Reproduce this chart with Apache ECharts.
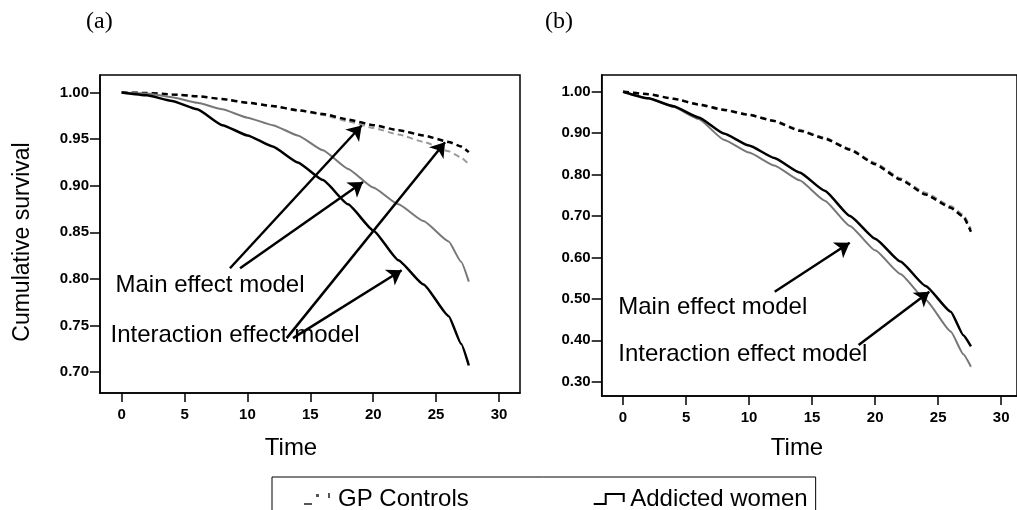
<!DOCTYPE html>
<html>
<head>
<meta charset="utf-8">
<script src="https://cdn.jsdelivr.net/npm/echarts@6/dist/echarts.min.js"></script>
<style>
  html, body { margin: 0; padding: 0; background: #fff; }
  #main { width: 1017px; height: 510px; }
</style>
</head>
<body>
<div id="main"></div>
<script>
// follow-up time (shared by all curves)
const times = [0, 2, 4, 6, 8, 10, 12, 14, 16, 18, 20, 22, 24, 26, 27, 27.6];

// (a) curves
const aGpMain = [1, 0.9995, 0.998, 0.996, 0.993, 0.989, 0.9855, 0.981, 0.976, 0.969, 0.962, 0.955, 0.947, 0.937, 0.930, 0.923];
const aGpInter = [1, 0.9995, 0.998, 0.996, 0.993, 0.989, 0.9855, 0.981, 0.977, 0.971, 0.965, 0.9595, 0.954, 0.947, 0.942, 0.936];
const aAwMain = [1, 0.999, 0.995, 0.989, 0.982, 0.973, 0.965, 0.954, 0.938, 0.918, 0.898, 0.880, 0.862, 0.840, 0.818, 0.797];
const aAwInter = [1, 0.997, 0.991, 0.982, 0.965, 0.954, 0.942, 0.925, 0.906, 0.880, 0.852, 0.820, 0.794, 0.760, 0.730, 0.707];

// (b) curves
const bGpMain = [1, 0.994, 0.983, 0.970, 0.957, 0.945, 0.930, 0.908, 0.889, 0.862, 0.828, 0.791, 0.756, 0.724, 0.703, 0.668];
const bGpInter = [1, 0.994, 0.983, 0.969, 0.956, 0.944, 0.929, 0.906, 0.887, 0.860, 0.825, 0.788, 0.752, 0.720, 0.698, 0.662];
const bAwMain = [1, 0.984, 0.963, 0.934, 0.884, 0.853, 0.822, 0.786, 0.737, 0.676, 0.617, 0.560, 0.498, 0.421, 0.366, 0.336];
const bAwInter = [1, 0.984, 0.965, 0.938, 0.899, 0.870, 0.840, 0.805, 0.761, 0.700, 0.645, 0.590, 0.531, 0.469, 0.412, 0.385];

// tick labels
const xTicks = [0, 5, 10, 15, 20, 25, 30];
const yTicksA = [0.70, 0.75, 0.80, 0.85, 0.90, 0.95, 1.00];
const yTicksB = [0.30, 0.40, 0.50, 0.60, 0.70, 0.80, 0.90, 1.00];

// annotation text (time, survival) and arrows [from, to]
const notesA = [['Main effect model', -0.53, 0.7932], ['Interaction effect model', -0.93, 0.7396]];
const arrowsA = [
  [[8.61, 0.8114], [19.08, 0.9646]],
  [[9.41, 0.8114], [19.19, 0.9039]],
  [[13.12, 0.7364], [25.71, 0.9467]],
  [[13.62, 0.7364], [22.26, 0.8093]]
];
const notesB = [['Main effect model', -0.42, 0.4803], ['Interaction effect model', -0.42, 0.3669]];
const arrowsB = [
  [[12.03, 0.5173], [17.98, 0.6355]],
  [[18.69, 0.3886], [24.30, 0.5173]]
];

const FONT = '"Liberation Sans", Arial, sans-serif';
const pairs = (ys) => ys.map((v, i) => [times[i], v]);

function xAx (idx, min, max) {
  return {
    type: 'value', gridIndex: idx, min: min, max: max,
    axisLine: { show: true, onZero: false, lineStyle: { color: '#000', width: 1.5 } },
    axisTick: { show: true, length: 9, customValues: xTicks, lineStyle: { color: '#000', width: 1.5 } },
    axisLabel: { customValues: xTicks, color: '#000', fontFamily: FONT, fontWeight: 'bold', fontSize: 15, margin: 14 },
    splitLine: { show: false }
  };
}
function yAx (idx, min, max, ticks, digits) {
  return {
    type: 'value', gridIndex: idx, min: min, max: max,
    axisLine: { show: true, onZero: false, lineStyle: { color: '#000', width: 1.5 } },
    axisTick: { show: true, length: 10, customValues: ticks, lineStyle: { color: '#000', width: 1.5 } },
    axisLabel: {
      customValues: ticks, color: '#000', fontFamily: FONT, fontWeight: 'bold', fontSize: 15, margin: 11,
      formatter: (v) => v.toFixed(digits)
    },
    splitLine: { show: false }
  };
}

function curve (name, idx, ys, color, width, dashed) {
  return {
    name: name, type: 'line', xAxisIndex: idx, yAxisIndex: idx,
    data: pairs(ys), showSymbol: false, smooth: 0.15, smoothMonotone: 'x',
    lineStyle: { color: color, width: width, type: dashed ? [6, 4] : 'solid' },
    itemStyle: { color: color },
    emphasis: { disabled: true }, silent: true
  };
}

function notes (txt, arr) {
  return {
    markPoint: {
      symbol: 'circle', symbolSize: 1, silent: true,
      itemStyle: { color: 'rgba(0,0,0,0)' },
      label: { show: true, position: 'right', distance: 0, formatter: '{b}', color: '#000', fontFamily: FONT, fontSize: 24 },
      data: txt.map((t) => ({ name: t[0], coord: [t[1], t[2]] }))
    },
    markLine: {
      symbol: ['none', 'arrow'], symbolSize: 14, silent: true,
      lineStyle: { color: '#000', width: 2.5, type: 'solid' },
      label: { show: false },
      emphasis: { disabled: true },
      data: arr.map((a) => [{ coord: a[0] }, { coord: a[1] }])
    }
  };
}

const blackA = Object.assign(curve('Addicted women', 0, aAwInter, '#000', 2.5, false), notes(notesA, arrowsA));
const blackB = Object.assign(curve('Addicted women', 1, bAwInter, '#000', 2.5, false), notes(notesB, arrowsB));

const SERIF = '"Liberation Serif", "Times New Roman", serif';

const option = {
  animation: false,
  backgroundColor: '#fff',
  title: [
    { text: '(a)', left: 86, top: 10, padding: 0, textStyle: { fontFamily: SERIF, fontSize: 24, fontWeight: 'normal', color: '#000' } },
    { text: '(b)', left: 545, top: 10, padding: 0, textStyle: { fontFamily: SERIF, fontSize: 24, fontWeight: 'normal', color: '#000' } }
  ],
  grid: [
    { left: 100, top: 75, width: 420, height: 318, show: true, borderColor: '#000', borderWidth: 1.5, containLabel: false },
    { left: 601.7, top: 75, width: 420.3, height: 321, show: true, borderColor: '#000', borderWidth: 1.5, containLabel: false }
  ],
  xAxis: [xAx(0, -1.725, 31.67), xAx(1, -1.693, 31.254)],
  yAxis: [yAx(0, 0.6775, 1.0188, yTicksA, 2), yAx(1, 0.2655, 1.0403, yTicksB, 2)],
  legend: {
    left: 272, top: 477, orient: 'horizontal',
    borderColor: '#000', borderWidth: 1, padding: [10, 8, 30, 32],
    itemGap: 125, itemWidth: 32, itemHeight: 12,
    textStyle: { fontFamily: FONT, fontSize: 24, color: '#000' },
    selectedMode: false,
    data: [
      { name: 'GP Controls', icon: 'path://M0,10H8V12H0Z M12,1H15V4H12Z M24,0H26V5H24Z', itemStyle: { color: '#555', borderWidth: 0 }, lineStyle: { width: 0 } },
      { name: 'Addicted women', icon: 'path://M0,10H11V0H31V9H29V2H13V12H0Z', itemStyle: { color: '#000', borderWidth: 0 }, lineStyle: { width: 0 } }
    ]
  },
  graphic: [
    { type: 'text', x: 23, y: 242, rotation: Math.PI / 2, style: { text: 'Cumulative survival', font: '23px "Liberation Sans", Arial, sans-serif', fill: '#000', textAlign: 'center', textVerticalAlign: 'middle' } },
    { type: 'text', x: 291, y: 448, style: { text: 'Time', font: '24px "Liberation Sans", Arial, sans-serif', fill: '#000', textAlign: 'center', textVerticalAlign: 'middle' } },
    { type: 'text', x: 797, y: 448, style: { text: 'Time', font: '24px "Liberation Sans", Arial, sans-serif', fill: '#000', textAlign: 'center', textVerticalAlign: 'middle' } }
  ],
  series: [
    curve('GP Controls', 0, aGpMain, '#9a9a9a', 2, true),
    curve('GP Controls', 0, aGpInter, '#000', 2.5, true),
    curve('Addicted women', 0, aAwMain, '#777', 2, false),
    blackA,
    curve('GP Controls', 1, bGpMain, '#9a9a9a', 2, true),
    curve('GP Controls', 1, bGpInter, '#000', 2.5, true),
    curve('Addicted women', 1, bAwMain, '#777', 2, false),
    blackB
  ]
};

const chart = echarts.init(document.getElementById('main'));
chart.setOption(option);
window.onresize = chart.resize;
</script>
</body>
</html>
